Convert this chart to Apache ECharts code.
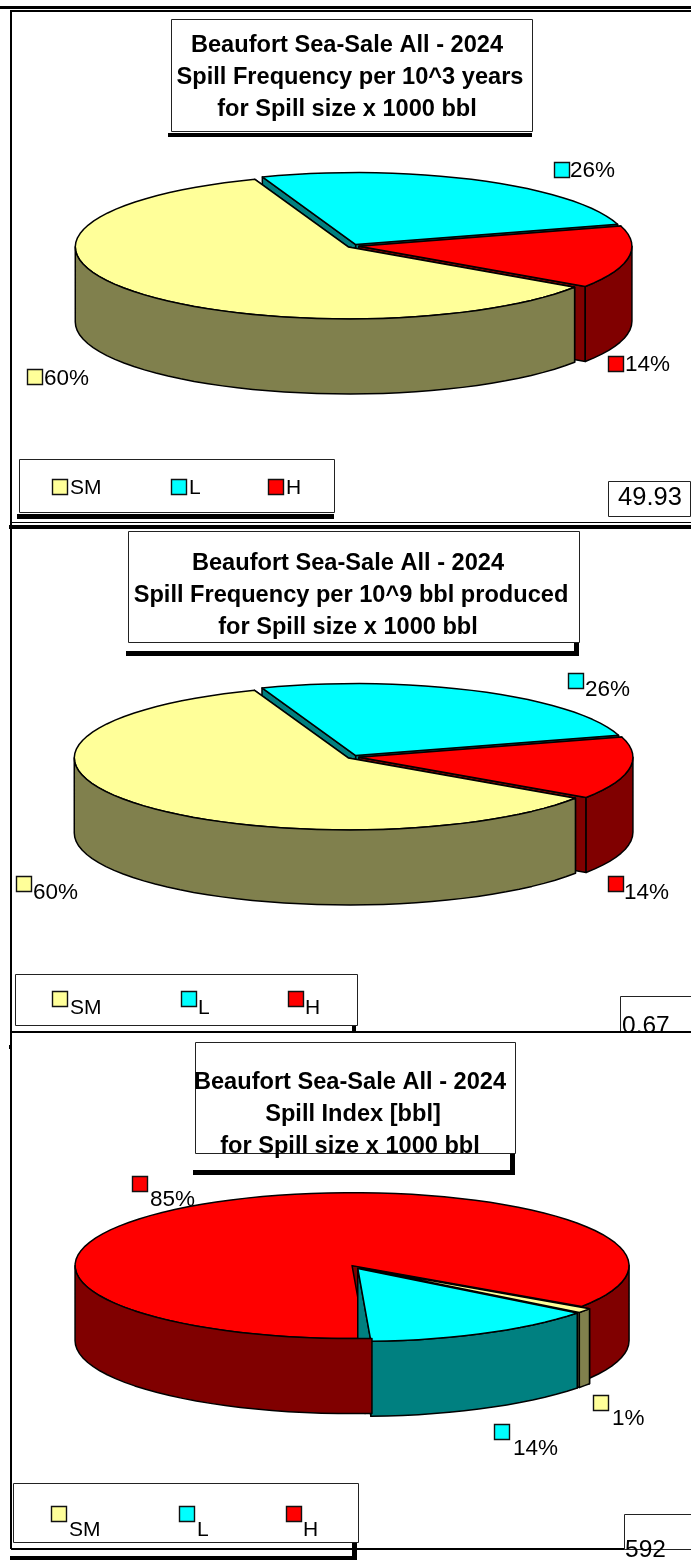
<!DOCTYPE html>
<html><head><meta charset="utf-8">
<style>html,body{margin:0;padding:0;background:#fff}#c{width:691px;height:1562px}</style>
<script src="https://cdn.jsdelivr.net/npm/echarts@6/dist/echarts.min.js"></script>
</head><body><div id="c"></div>
<script>
// ---- data ----
const categories = ['SM','L','H'];
const freqYearsShares = [60,26,14];
const freqBarrelShares = [60,26,14];
const spillIndexShares = [1,13.8,85.2];
const titleLine1 = 'Beaufort Sea-Sale All - 2024';
const titleLine3 = 'for Spill size x 1000 bbl';
const subtitles = ['Spill Frequency per 10^3 years','Spill Frequency per 10^9 bbl produced','Spill Index [bbl]'];
const totals = ['49.93','0.67','592'];
// ---- style ----
const topColors = ['#FFFF99','#00FFFF','#FF0000'];
const sideColors = ['#80804D','#008080','#800000'];
const FONT = '"Liberation Sans", Arial, sans-serif';
const START = 124;
// ---- layout (pixels) ----
const layouts = [
 {shares:freqYearsShares,cx:353,cy:246,rx:273,ry:72,depth:75,explode:6,overhang:0,order:[3,1,2],z:2,
  title:{box:[171,19,532,131],cx:347,ys:[45,77,109]},shadow:[[168,133,532,137]],
  legend:{box:[19,459,334,512],sw:[52,171,268],swY:479,lx:[70,189,286],ly:488},
  legendShadow:[[17,514,334,519]],
  labels:[[27,369,44,379],[554,162,570,171],[608,356,625,365]],
  total:{box:[608,481,690,516],x:650,y:498,size:25.5,align:'center'}},
 {shares:freqBarrelShares,cx:353,cy:757,rx:274,ry:72,depth:75,explode:6,overhang:0,order:[3,1,2],z:2,
  title:{box:[128,531,579,642],cx:348,ys:[563,595,627]},shadow:[[126,651,579,656],[574,642,579,656]],
  legend:{box:[15,974,357,1025],sw:[52,181,288],swY:991,lx:[70,198,305],ly:1008},
  legendShadow:[[352,1025,356,1033]],
  labels:[[16,876,33,893],[568,673,585,690],[608,876,624,893]],
  total:{box:[620,996,700,1060],x:622,y:1026,size:24.5,align:'left'}},
 {shares:spillIndexShares,cx:355,cy:1267,rx:277,ry:73,depth:75,explode:6,overhang:1.4,order:[2,3,1],z:8,
  title:{box:[195,1042,515,1153],cx:350,ys:[1082,1114,1146]},shadow:[[193,1170,515,1175],[510,1153,515,1175]],
  legend:{box:[13,1483,358,1542],sw:[51,179,286],swY:1506,lx:[69,197,303],ly:1530},
  legendShadow:[[10,1556,357,1560],[352,1543,357,1560]],
  labels:[[593,1395,612,1419],[494,1424,513,1449],[132,1176,150,1200]],
  total:{box:[624,1514,700,1549],x:625,y:1550,size:24.5,align:'left'}}
];

function pt(L,ox,oy,deg,down){
  const t=deg*Math.PI/180;
  return [L.cx+ox+L.rx*Math.sin(t), L.cy+oy-L.ry*Math.cos(t)+(down||0)];
}
function sliceRender(L){
  const total=L.shares.reduce((a,b)=>a+b,0);
  const STEP=3.5;
  return function(params){
    const i=params.dataIndex, base=L.order[i]*10;
    let a0=START;
    for(let k=0;k<i;k++) a0+=L.shares[k]/total*360;
    const a1=a0+L.shares[i]/total*360, mid=(a0+a1)/2*Math.PI/180;
    const ox=L.explode*Math.sin(mid), oy=-L.explode*Math.cos(mid)*L.ry/L.rx;
    const apex=[L.cx+ox,L.cy+oy];
    const line={stroke:'#000',lineWidth:1.5,lineJoin:'round'};
    const kids=[];
    const poly=(points,fill,z2)=>kids.push({type:'polygon',z2:z2,shape:{points:points},style:Object.assign({fill:fill},line)});
    const arc=(s,e,down)=>{
      const out=[]; const n=Math.max(1,Math.ceil(Math.abs(e-s)/STEP));
      for(let k=0;k<=n;k++) out.push(pt(L,ox,oy,s+(e-s)*k/n,down));
      return out;
    };
    // radial cut faces
    [a0,a1].forEach(a=>{
      const r=pt(L,ox,oy,a);
      poly([apex,r,[r[0],r[1]+L.depth],[apex[0],apex[1]+L.depth]],sideColors[i],base);
    });
    // outer wall: only the part of the arc that faces the viewer (90..270, also after one turn)
    [0,360].forEach(turn=>{
      let s=Math.max(a0,90+turn), e=Math.min(a1,270+turn);
      if(s>=e) return;
      const reachesLeft=(e===270+turn);
      if(reachesLeft && a0>150) s-=L.overhang;
      const pts=arc(s,e).concat(arc(e,s,L.depth));
      poly(pts,sideColors[i],reachesLeft?40:base+2);
    });
    // top face
    poly([apex].concat(arc(a0,a1)),topColors[i],base+5);
    return {type:'group',children:kids};
  };
}
const rect=(b,fill,stroke,z,lw)=>({type:'rect',z:z,silent:true,
  shape:{x:b[0]+.5,y:b[1]+.5,width:b[2]-b[0],height:b[3]-b[1]},
  style:{fill:fill,stroke:stroke,lineWidth:lw===undefined?1:lw}});
const solid=(b,z)=>({type:'rect',z:z,silent:true,shape:{x:b[0],y:b[1],width:b[2]-b[0],height:b[3]-b[1]},style:{fill:'#000'}});
const txt=(s,x,y,size,z,weight,align)=>({type:'text',z:z,silent:true,x:x,y:y,
  style:{text:s,font:(weight||'normal')+' '+size+'px '+FONT,fill:'#000',align:align||'left',verticalAlign:'middle'}});

const graphics=[];
// frames
graphics.push(solid([0,6,691,9],0), solid([11,10,691,12],0), solid([10,10,12,527],0));
graphics.push(solid([11,522,691,523],0), solid([9,525,691,529],0), solid([10,529,12,1033],0));
layouts.forEach((L,ci)=>{
  const z=L.z+2;
  L.shadow.concat(L.legendShadow).forEach(b=>graphics.push(solid(b,z)));
  graphics.push(rect(L.title.box,'#fff','#222',z));
  [titleLine1,subtitles[ci],titleLine3].forEach((s,k)=>graphics.push(txt(s,L.title.cx+(k===1?3:0),L.title.ys[k],23.6,z+1,'bold','center')));
  graphics.push(rect(L.legend.box,'#fff','#222',z));
  const total=L.shares.reduce((a,b)=>a+b,0);
  categories.forEach((c,k)=>{
    graphics.push(rect([L.legend.sw[k],L.legend.swY,L.legend.sw[k]+15,L.legend.swY+15],topColors[k],'#111',z+1,1.4));
    graphics.push(txt(c,L.legend.lx[k],L.legend.ly,21,z+1));
    const p=L.labels[k];
    graphics.push(rect([p[0],p[1],p[0]+15,p[1]+15],topColors[k],'#111',z+1,1.4));
    graphics.push(txt(Math.round(L.shares[k]/total*100)+'%',p[2],p[3],22.5,z+1));
  });
  graphics.push(rect(L.total.box,'#fff','#222',z));
  graphics.push(txt(totals[ci],L.total.x,L.total.y,L.total.size,z+1,'normal',L.total.align));
});
// third panel sits over the second one and clips what runs past its top edge
graphics.push({type:'rect',z:6,silent:true,shape:{x:0,y:1033,width:691,height:529},style:{fill:'#fff'}});
graphics.push(solid([10,1031,691,1033],7), solid([10,1033,12,1549],7), solid([9,1045,11,1049],7), solid([11,1548,691,1550],7));

const chart=echarts.init(document.getElementById('c'),null,{renderer:'canvas'});
chart.setOption({
  animation:false,
  backgroundColor:'#fff',
  graphic:{elements:graphics},
  series:layouts.map(L=>({
    type:'custom',coordinateSystem:'none',silent:true,z:L.z,
    renderItem:sliceRender(L),
    data:L.shares.map((v,k)=>({name:categories[k],value:v}))
  }))
});
</script></body></html>
